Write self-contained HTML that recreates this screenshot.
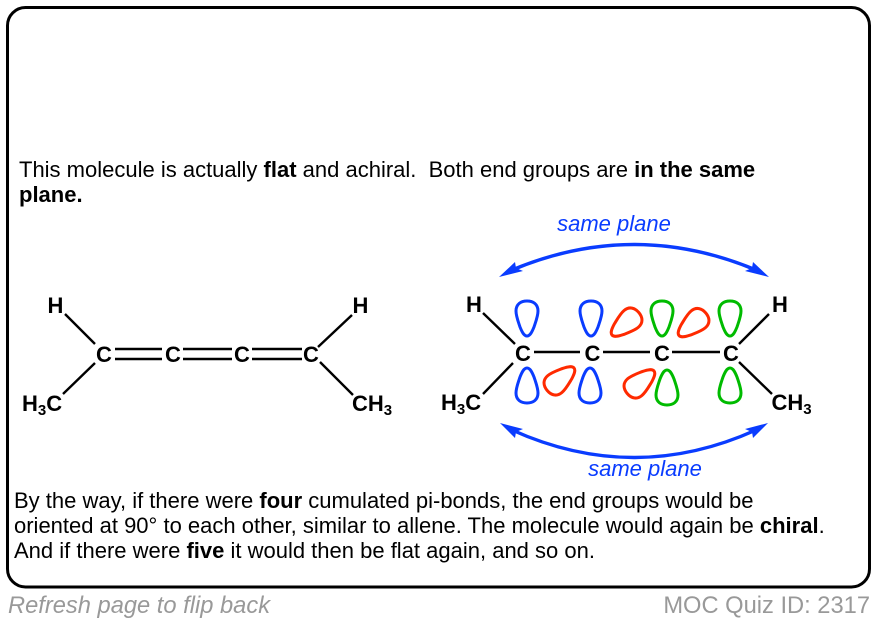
<!DOCTYPE html>
<html>
<head>
<meta charset="utf-8">
<style>
html,body{margin:0;padding:0;background:#fff;width:876px;height:622px;overflow:hidden}
svg{display:block}
text{font-family:"Liberation Sans",Arial,sans-serif;font-size:22px;fill:#000}
.b{font-weight:bold}
.l{font-weight:bold;font-size:22px}
.s{font-weight:bold;font-size:15px}
.bl{font-style:italic;fill:#0a3cff}
.bond{stroke:#000;stroke-width:2.4;fill:none}
.lobe{fill:none;stroke-width:3;stroke-linejoin:round}
</style>
</head>
<body>
<svg width="876" height="622" viewBox="0 0 876 622" xmlns="http://www.w3.org/2000/svg">
<defs>
<path id="lp" d="M0 0C-3 0 -5 -4 -7 -9C-9 -15 -11 -20 -11 -25C-11 -32 -6 -35 0 -35C6 -35 11 -32 11 -25C11 -20 9 -15 7 -9C5 -4 3 0 0 0Z"/>
</defs>
<rect x="7.500" y="7.500" width="862" height="579.500" rx="18" ry="18" fill="#fff" stroke="#000" stroke-width="3"/>

<text x="19" y="177" xml:space="preserve">This molecule is actually <tspan class="b">flat</tspan> and achiral.  Both end groups are <tspan class="b">in the same</tspan></text>
<text x="19" y="202" class="b">plane.</text>

<text x="14" y="508">By the way, if there were <tspan class="b">four</tspan> cumulated pi-bonds, the end groups would be</text>
<text x="14" y="533">oriented at 90° to each other, similar to allene. The molecule would again be <tspan class="b">chiral</tspan>.</text>
<text x="14" y="558">And if there were <tspan class="b">five</tspan> it would then be flat again, and so on.</text>

<text x="8" y="613" style="font-style:italic;font-size:23.700px;fill:#999">Refresh page to flip back</text>
<text x="870" y="613" text-anchor="end" style="font-size:23.700px;fill:#999">MOC Quiz ID: 2317</text>

<!-- left molecule -->
<g class="bond">
<path d="M65 314L95 344M95 363L63 394M352 315L318 347M320 362L353 395"/>
<path d="M115 349H162M115 359H162M183 349H232M183 359H232M252 349H302M252 359H302"/>
</g>
<text class="l" x="47.500" y="313">H</text>
<text class="l" x="352.500" y="313">H</text>
<text class="l" x="96" y="362">C</text>
<text class="l" x="165" y="362">C</text>
<text class="l" x="234" y="362">C</text>
<text class="l" x="303" y="362">C</text>
<text class="l" x="22" y="411">H<tspan class="s" dy="4">3</tspan><tspan dy="-4">C</tspan></text>
<text class="l" x="352" y="411">CH<tspan class="s" dy="4">3</tspan></text>

<!-- right molecule -->
<g class="bond">
<path d="M483 313L515 344M513 363L483 394M769 314L739 344M739 362L772 394"/>
<path d="M534 352H580M603 352H650M672 352H720"/>
</g>
<text class="l" x="466" y="312">H</text>
<text class="l" x="772" y="312">H</text>
<text class="l" x="515" y="361">C</text>
<text class="l" x="584.500" y="361">C</text>
<text class="l" x="654" y="361">C</text>
<text class="l" x="723" y="361">C</text>
<text class="l" x="441" y="410">H<tspan class="s" dy="4">3</tspan><tspan dy="-4">C</tspan></text>
<text class="l" x="771.500" y="410">CH<tspan class="s" dy="4">3</tspan></text>

<!-- orbitals -->
<g class="lobe" stroke="#0a3cff">
<use href="#lp" transform="translate(527,336)"/>
<use href="#lp" transform="translate(591,336)"/>
<use href="#lp" transform="translate(527,368) rotate(180)"/>
<use href="#lp" transform="translate(590,368) rotate(180)"/>
</g>
<g class="lobe" stroke="#00bb00">
<use href="#lp" transform="translate(662,336)"/>
<use href="#lp" transform="translate(730,336)"/>
<use href="#lp" transform="translate(667,370) rotate(180)"/>
<use href="#lp" transform="translate(730,368) rotate(180)"/>
</g>
<g class="lobe" stroke="#ff2a00">
<use href="#lp" transform="translate(612,335) rotate(50)"/>
<use href="#lp" transform="translate(679,335.500) rotate(50)"/>
<use href="#lp" transform="translate(574,368) rotate(230)"/>
<use href="#lp" transform="translate(654,371) rotate(230)"/>
</g>

<!-- arrows -->
<g fill="none" stroke="#0a3cff" stroke-width="3.400">
<path d="M512 270Q634 219 756 270"/>
<path d="M512 430Q634 485 756 430"/>
</g>
<g fill="#0a3cff">
<path d="M499 277L515 262L516 268L523 271Z"/>
<path d="M769 277L753 262L752 268L745 271Z"/>
<path d="M500 423L523 429L516 432L515 438Z"/>
<path d="M768 423L745 429L752 432L753 438Z"/>
</g>
<text class="bl" x="614" y="231" text-anchor="middle">same plane</text>
<text class="bl" x="645" y="476" text-anchor="middle">same plane</text>
</svg>
</body>
</html>
